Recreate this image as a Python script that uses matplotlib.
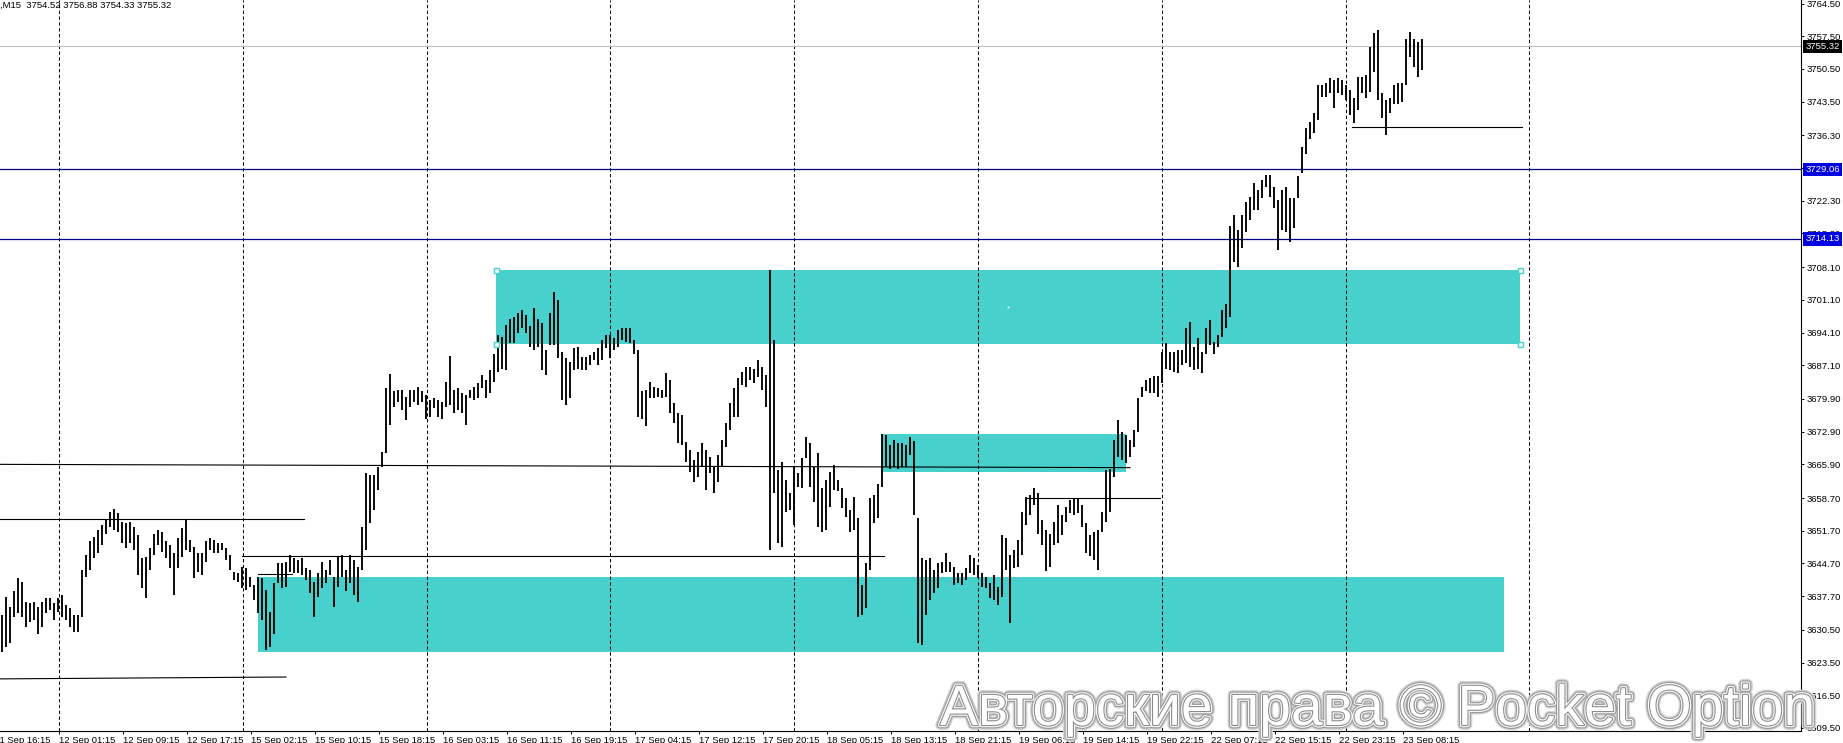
import matplotlib
matplotlib.use('Agg')
import matplotlib.pyplot as plt
import matplotlib.patheffects as pe
import matplotlib.transforms as mtransforms
from matplotlib.patches import Rectangle

plt.rcParams['font.family'] = ['Liberation Sans', 'DejaVu Sans']
plt.rcParams['lines.scale_dashes'] = False

# bar highs / lows (one bar per x unit)
HIGHS = [
    3633.7, 3637.6, 3635.4, 3638.7, 3641.5, 3640.8, 3636.5, 3636.2, 3636.5, 3635.4,
    3636.5, 3637.2, 3637.2, 3636.2, 3637.2, 3637.9, 3635.8, 3635.1, 3633.7, 3633.7,
    3643.3, 3646.5, 3649.4, 3650.4, 3651.8, 3652.9, 3654.3, 3655.8, 3656.3, 3655.4,
    3653.6, 3653.3, 3653.6, 3652.6, 3650.8, 3645.8, 3646.1, 3647.9, 3651.1, 3651.8,
    3651.5, 3649.4, 3648.6, 3646.9, 3650.1, 3652.2, 3654.0, 3649.7, 3648.3, 3646.9,
    3646.9, 3649.4, 3650.1, 3649.7, 3649.0, 3649.0, 3647.9, 3646.5, 3642.9, 3642.6,
    3644.0, 3643.7, 3641.9, 3640.1, 3641.9, 3641.5, 3639.0, 3634.4, 3640.5, 3644.7,
    3644.7, 3645.1, 3646.5, 3645.8, 3645.4, 3645.8, 3643.7, 3643.3, 3640.8, 3642.6,
    3645.1, 3643.3, 3645.4, 3641.9, 3646.1, 3646.5, 3643.3, 3646.5, 3645.4, 3644.0,
    3652.6, 3664.0, 3663.6, 3663.6, 3665.4, 3668.6, 3682.2, 3685.2, 3681.5, 3681.8,
    3681.8, 3680.4, 3681.8, 3681.8, 3682.5, 3681.5, 3680.7, 3679.7, 3680.0, 3679.7,
    3679.3, 3683.6, 3689.0, 3681.8, 3682.2, 3681.1, 3680.7, 3681.8, 3682.5, 3683.2,
    3685.0, 3683.9, 3686.1, 3689.6, 3693.6, 3693.2, 3695.7, 3697.1, 3697.5, 3698.2,
    3698.9, 3697.9, 3695.4, 3699.3, 3697.1, 3696.1, 3690.4, 3698.2, 3702.8, 3701.1,
    3690.0, 3688.6, 3687.9, 3690.7, 3691.1, 3688.9, 3688.9, 3689.3, 3690.0, 3690.7,
    3692.5, 3693.6, 3693.6, 3692.9, 3694.6, 3695.0, 3695.0, 3695.0, 3692.5, 3690.4,
    3681.5, 3681.8, 3683.6, 3682.5, 3682.2, 3681.8, 3685.4, 3684.0, 3679.0, 3676.8,
    3676.4, 3670.7, 3669.0, 3666.8, 3668.6, 3670.4, 3669.0, 3667.5, 3665.4, 3667.9,
    3671.1, 3674.7, 3679.0, 3682.2, 3684.3, 3685.7, 3686.8, 3686.8, 3686.4, 3688.2,
    3686.8, 3685.0, 3707.5, 3692.5, 3664.7, 3666.5, 3662.6, 3659.7, 3665.4, 3664.0,
    3667.2, 3671.8, 3670.4, 3665.4, 3668.3, 3660.8, 3662.6, 3664.3, 3665.8, 3662.6,
    3660.8, 3658.6, 3656.1, 3659.0, 3654.4, 3640.1, 3644.7, 3658.6, 3659.3, 3661.8,
    3672.5, 3672.2, 3670.0, 3671.1, 3670.4, 3670.4, 3670.0, 3671.8, 3670.8, 3654.4,
    3645.8, 3645.4, 3645.8, 3643.3, 3644.7, 3645.1, 3646.9, 3645.1, 3644.0, 3642.6,
    3642.6, 3643.7, 3646.5, 3645.8, 3644.4, 3642.6, 3641.9, 3640.5, 3642.2, 3639.7,
    3650.8, 3650.1, 3646.5, 3647.6, 3649.7, 3655.8, 3659.0, 3659.3, 3660.8, 3659.7,
    3654.0, 3651.9, 3651.1, 3653.6, 3657.2, 3655.1, 3656.8, 3658.3, 3658.6, 3658.6,
    3657.2, 3653.3, 3650.8, 3651.5, 3651.9, 3655.8, 3664.7, 3665.0, 3671.1, 3675.4,
    3672.9, 3672.2, 3671.1, 3673.3, 3680.0, 3682.5, 3684.0, 3684.3, 3684.7, 3684.7,
    3690.0, 3691.8, 3690.0, 3690.0, 3690.4, 3690.4, 3695.0, 3696.4, 3691.1, 3692.9,
    3690.0, 3695.0, 3696.8, 3692.1, 3693.6, 3698.9, 3700.3, 3716.8, 3719.3, 3716.0,
    3719.3, 3722.1, 3723.2, 3726.0, 3724.6, 3726.7, 3727.8, 3727.8, 3725.3, 3722.5,
    3724.6, 3725.3, 3722.8, 3722.8, 3727.5, 3733.9, 3737.8, 3739.2, 3741.0, 3747.1,
    3747.1, 3747.4, 3748.5, 3748.1, 3748.5, 3748.1, 3747.1, 3746.0, 3744.2, 3748.8,
    3748.8, 3749.2, 3755.3, 3758.1, 3758.8, 3745.3, 3743.9, 3744.2, 3747.1, 3747.4,
    3747.4, 3757.0, 3758.5, 3757.0, 3756.3, 3757.0,
]
LOWS = [
    3625.8, 3626.9, 3627.6, 3633.3, 3634.0, 3633.3, 3631.2, 3632.2, 3632.6, 3629.7,
    3631.2, 3634.0, 3634.7, 3632.6, 3634.4, 3633.3, 3632.6, 3631.2, 3630.1, 3630.1,
    3633.3, 3641.9, 3643.3, 3645.8, 3646.9, 3648.6, 3651.1, 3652.6, 3651.8, 3651.5,
    3649.0, 3647.9, 3649.0, 3647.6, 3642.2, 3639.4, 3637.2, 3643.3, 3646.5, 3648.6,
    3647.2, 3645.8, 3643.7, 3637.9, 3643.7, 3646.1, 3647.6, 3647.2, 3641.5, 3642.9,
    3642.2, 3645.1, 3647.6, 3646.9, 3646.9, 3647.6, 3645.4, 3643.3, 3641.2, 3640.8,
    3639.4, 3639.0, 3639.7, 3636.9, 3634.0, 3632.6, 3626.2, 3626.9, 3629.7, 3640.5,
    3639.4, 3639.7, 3642.9, 3642.6, 3642.6, 3642.2, 3641.2, 3638.3, 3633.3, 3637.6,
    3639.4, 3640.5, 3642.2, 3635.4, 3639.7, 3641.9, 3638.7, 3640.5, 3637.9, 3636.5,
    3643.3, 3647.6, 3653.3, 3656.1, 3660.4, 3665.4, 3668.3, 3674.3, 3678.2, 3679.3,
    3677.5, 3675.4, 3678.2, 3679.3, 3678.6, 3679.3, 3675.7, 3676.1, 3677.9, 3676.1,
    3675.7, 3678.2, 3678.6, 3676.8, 3677.5, 3676.8, 3674.3, 3680.0, 3679.7, 3680.0,
    3682.2, 3680.0, 3681.1, 3683.6, 3685.7, 3686.4, 3686.1, 3691.8, 3691.8, 3693.9,
    3695.0, 3693.9, 3691.1, 3690.4, 3691.1, 3686.1, 3685.0, 3691.4, 3691.4, 3688.6,
    3679.7, 3678.6, 3680.0, 3686.1, 3686.4, 3686.1, 3686.1, 3687.2, 3688.2, 3687.2,
    3688.2, 3690.7, 3688.6, 3690.4, 3691.1, 3692.5, 3692.1, 3691.8, 3689.6, 3676.1,
    3675.7, 3674.0, 3680.0, 3680.0, 3680.4, 3680.0, 3680.4, 3676.8, 3674.7, 3670.4,
    3670.0, 3666.5, 3664.3, 3662.2, 3663.3, 3665.4, 3660.4, 3664.0, 3659.7, 3662.2,
    3665.4, 3669.7, 3673.2, 3676.1, 3676.1, 3682.9, 3682.5, 3684.0, 3683.2, 3684.6,
    3681.8, 3678.2, 3647.5, 3659.7, 3649.0, 3648.3, 3655.8, 3656.1, 3652.9, 3661.1,
    3660.8, 3667.2, 3661.1, 3657.9, 3652.6, 3651.5, 3651.9, 3656.8, 3660.4, 3660.1,
    3656.5, 3654.7, 3651.5, 3651.9, 3633.3, 3633.7, 3635.1, 3643.3, 3653.3, 3654.4,
    3661.1, 3665.4, 3665.0, 3665.4, 3665.0, 3665.4, 3665.4, 3667.9, 3655.1, 3627.6,
    3627.2, 3633.7, 3636.9, 3638.3, 3639.4, 3642.6, 3642.9, 3642.9, 3640.1, 3640.5,
    3640.1, 3641.2, 3642.6, 3642.2, 3641.5, 3639.7, 3639.4, 3637.2, 3636.9, 3635.8,
    3637.6, 3643.3, 3631.9, 3643.7, 3644.0, 3646.5, 3652.9, 3655.1, 3657.2, 3651.1,
    3648.6, 3643.0, 3644.0, 3648.6, 3649.0, 3650.8, 3653.6, 3655.4, 3655.1, 3655.4,
    3652.6, 3646.9, 3646.2, 3645.4, 3643.3, 3651.5, 3653.6, 3655.8, 3663.3, 3667.5,
    3666.8, 3666.1, 3667.5, 3669.7, 3672.9, 3680.4, 3681.5, 3681.1, 3681.1, 3680.4,
    3683.2, 3686.4, 3686.1, 3685.7, 3685.4, 3687.1, 3687.5, 3686.8, 3686.1, 3686.4,
    3685.4, 3689.6, 3691.4, 3689.6, 3691.1, 3693.2, 3695.0, 3697.5, 3709.3, 3708.2,
    3712.1, 3715.7, 3718.2, 3720.3, 3720.3, 3722.8, 3725.3, 3723.2, 3720.7, 3711.8,
    3716.0, 3715.7, 3713.5, 3716.4, 3722.8, 3728.2, 3732.4, 3735.6, 3736.7, 3739.6,
    3744.6, 3744.6, 3745.3, 3742.1, 3745.3, 3744.9, 3743.9, 3740.6, 3738.9, 3741.7,
    3745.3, 3744.2, 3745.6, 3749.9, 3743.9, 3739.9, 3736.4, 3741.0, 3743.1, 3743.1,
    3743.5, 3747.1, 3753.1, 3751.0, 3748.8, 3750.3,
]

TIME_LABELS = [
    '11 Sep 16:15', '12 Sep 01:15', '12 Sep 09:15', '12 Sep 17:15', '15 Sep 02:15',
    '15 Sep 10:15', '15 Sep 18:15', '16 Sep 03:15', '16 Sep 11:15', '16 Sep 19:15',
    '17 Sep 04:15', '17 Sep 12:15', '17 Sep 20:15', '18 Sep 05:15', '18 Sep 13:15',
    '18 Sep 21:15', '19 Sep 06:15', '19 Sep 14:15', '19 Sep 22:15', '22 Sep 07:15',
    '22 Sep 15:15', '22 Sep 23:15', '23 Sep 08:15',
]
PRICE_TICKS = [
    3764.50, 3757.50, 3750.50, 3743.50, 3736.30, 3729.30, 3722.30, 3715.30,
    3708.10, 3701.10, 3694.10, 3687.10, 3679.90, 3672.90, 3665.90, 3658.70,
    3651.70, 3644.70, 3637.70, 3630.50, 3623.50, 3616.50, 3609.50,
]

# supply / demand zones (x start, x end, low, high)
ZONE_START = [124.0, 64.6, 220.4]
ZONE_END = [380.0, 375.9, 281.5]
ZONE_LOW = [3691.6, 3625.8, 3664.3]
ZONE_HIGH = [3707.5, 3641.8, 3672.4]

# black level / trend lines
LINE_X0 = [0.0, 0.0, 60.5, 64.5, 0.0, 256.7, 338.0]
LINE_X1 = [282.5, 76.0, 221.0, 73.0, 71.5, 290.0, 380.5]
LINE_P0 = [3665.9, 3654.2, 3646.25, 3642.4, 3620.0, 3658.6, 3738.0]
LINE_P1 = [3665.2, 3654.2, 3646.25, 3642.4, 3620.4, 3658.6, 3738.0]

BLUE_LEVELS = [3729.06, 3714.13]
LAST_PRICE = 3755.32
HEADER = ',M15  3754.52 3756.88 3754.33 3755.32'
TEAL = '#48D1CC'

W, H = 1843, 743
fig = plt.figure(figsize=(W / 100, H / 100), dpi=100)
ax = fig.add_axes([0, 12 / H, 1801 / W, 731 / H])
ax.set_xlim(0, 450.25)
ax.set_ylim(3608.85, 3765.25)

for x0, x1, lo, hi in zip(ZONE_START, ZONE_END, ZONE_LOW, ZONE_HIGH):
    ax.add_patch(Rectangle((x0, lo), x1 - x0, hi - lo, facecolor=TEAL,
                           edgecolor='none', zorder=1))

# day separators
day_starts = [14.75 + 45.95 * k for k in range(9)]
for d in day_starts:
    ax.axvline(d, color='black', lw=0.75, dashes=(2.4, 1.8), zorder=2)

for lvl in BLUE_LEVELS:
    ax.axhline(lvl, color='#000080', lw=0.9, zorder=2)
ax.axhline(LAST_PRICE, color='#c0c0c0', lw=0.8, zorder=2)

for x0, x1, p0, p1 in zip(LINE_X0, LINE_X1, LINE_P0, LINE_P1):
    ax.plot([x0, x1], [p0, p1], color='black', lw=0.8, zorder=3)

xs = [i + 0.5 for i in range(len(HIGHS))]
ax.vlines(xs, LOWS, HIGHS, colors='black', linewidth=1.35, zorder=4)

# selected rectangle handles
hx = [ZONE_START[0], ZONE_START[0], ZONE_END[0], ZONE_END[0]]
hy = [ZONE_HIGH[0], ZONE_LOW[0], ZONE_HIGH[0], ZONE_LOW[0]]
ax.plot(hx, hy, 's', ms=3.6, mfc='white', mec=TEAL, mew=1.0, zorder=5)
ax.plot([(ZONE_START[0] + ZONE_END[0]) / 2], [(ZONE_LOW[0] + ZONE_HIGH[0]) / 2],
        's', ms=1.3, color='white', mec='none', zorder=5)

for side in ('top', 'left'):
    ax.spines[side].set_visible(False)
for side in ('right', 'bottom'):
    ax.spines[side].set_linewidth(0.8)
    ax.spines[side].set_color('black')

ax.yaxis.tick_right()
ax.set_yticks(PRICE_TICKS)
ax.set_yticklabels([f'{p:.2f}' for p in PRICE_TICKS])
ax.tick_params(axis='y', direction='out', length=2.5, width=0.7, pad=1.5,
               labelsize=6.8, colors='black')

tick_pos = [16 * k - 1.25 for k in range(len(TIME_LABELS))]
ax.set_xticks(tick_pos[1:])
ax.set_xticklabels(TIME_LABELS[1:])
ax.tick_params(axis='x', direction='out', length=2.5, width=0.7, pad=0.8,
               labelsize=6.8, colors='black')
for lab in ax.get_xticklabels():
    lab.set_ha('left')
# first label lies just left of the visible range
off = mtransforms.offset_copy(ax.get_xaxis_transform(), fig=fig, x=0, y=-3.3,
                              units='points')
ax.text(tick_pos[0], 0, TIME_LABELS[0], transform=off, ha='left', va='top',
        fontsize=6.8, clip_on=False)

# price boxes on the right scale
box_tr = mtransforms.offset_copy(
    mtransforms.blended_transform_factory(ax.transAxes, ax.transData),
    fig=fig, x=3.2, y=0, units='points')
for lvl in BLUE_LEVELS:
    ax.text(1.0, lvl, f'{lvl:.2f}', transform=box_tr, ha='left', va='center',
            fontsize=6.8, color='white', clip_on=False, zorder=6,
            bbox=dict(boxstyle='square,pad=0.22', fc='#0000e0', ec='none'))
ax.text(1.0, LAST_PRICE, f'{LAST_PRICE:.2f}', transform=box_tr, ha='left',
        va='center', fontsize=6.8, color='white', clip_on=False, zorder=6,
        bbox=dict(boxstyle='square,pad=0.22', fc='black', ec='none'))

fig.text(-0.5 / W, 1 - 0.5 / H, HEADER, ha='left', va='top', fontsize=6.8)

wm = fig.text(940 / W, 1 - 725 / H, 'Авторские права © Pocket Option',
              ha='left', va='baseline', fontsize=41, color='white', zorder=10)
wm.set_path_effects([
    pe.Stroke(linewidth=7, foreground='#d4d4d4'),
    pe.Stroke(linewidth=5, foreground='#9c9c9c'),
    pe.Stroke(linewidth=3.2, foreground='white'),
    pe.Stroke(linewidth=1.6, foreground='#8c8c8c'),
    pe.Normal(),
])

fig.savefig('out.png', dpi=100)
